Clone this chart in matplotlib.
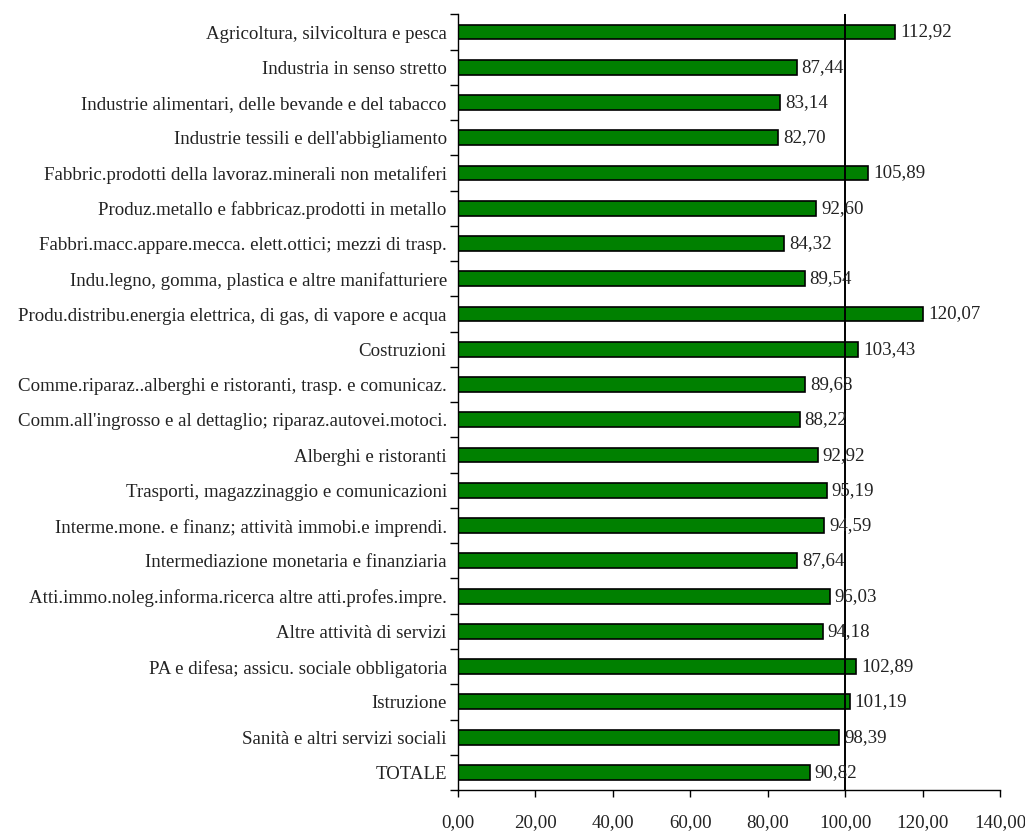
import matplotlib.pyplot as plt
from matplotlib.ticker import FixedLocator, FuncFormatter

# settori (dall'alto verso il basso) e indice
settori = [
    'Agricoltura, silvicoltura e pesca',
    'Industria in senso stretto',
    'Industrie alimentari, delle bevande e del tabacco',
    "Industrie tessili e dell'abbigliamento",
    'Fabbric.prodotti della lavoraz.minerali non metaliferi',
    'Produz.metallo e fabbricaz.prodotti in metallo',
    'Fabbri.macc.appare.mecca. elett.ottici; mezzi di trasp.',
    'Indu.legno, gomma, plastica e altre manifatturiere',
    'Produ.distribu.energia elettrica, di gas, di vapore e acqua',
    'Costruzioni',
    'Comme.riparaz..alberghi e ristoranti, trasp. e comunicaz.',
    "Comm.all'ingrosso e al dettaglio; riparaz.autovei.motoci.",
    'Alberghi e ristoranti',
    'Trasporti, magazzinaggio e comunicazioni',
    'Interme.mone. e finanz; attività immobi.e imprendi.',
    'Intermediazione monetaria e finanziaria',
    'Atti.immo.noleg.informa.ricerca altre atti.profes.impre.',
    'Altre attività di servizi',
    'PA e difesa; assicu. sociale obbligatoria',
    'Istruzione',
    'Sanità e altri servizi sociali',
    'TOTALE',
]
valori = [112.92, 87.44, 83.14, 82.70, 105.89, 92.60, 84.32, 89.54, 120.07,
          103.43, 89.68, 88.22, 92.92, 95.19, 94.59, 87.64, 96.03, 94.18,
          102.89, 101.19, 98.39, 90.82]
xticks = [0, 20, 40, 60, 80, 100, 120, 140]

plt.rcParams['font.family'] = ['Liberation Serif', 'DejaVu Serif']
fs = 13.6

fig = plt.figure(figsize=(10.25, 8.33), dpi=100)
ax = fig.add_axes([0.4468, 0.0516, 0.5288, 0.9311])

n = len(settori)
pos = list(range(n))
ax.barh(pos, valori, height=0.42, color='#008000', edgecolor='black', lw=1.2, zorder=2)

for p, v in zip(pos, valori):
    ax.text(v + 1.3, p, f'{v:.2f}'.replace('.', ','), va='center', ha='left',
            fontsize=fs, color='#222222', zorder=4)

ax.axvline(100, color='black', lw=1.4, zorder=3)

ax.set_xlim(0, 140)
ax.set_ylim(n - 0.5, -0.5)
ax.set_xticks(xticks)
ax.xaxis.set_major_formatter(FuncFormatter(lambda x, _: f'{x:.2f}'.replace('.', ',')))
ax.set_yticks(pos)
ax.set_yticklabels(settori)
ax.yaxis.set_minor_locator(FixedLocator([i - 0.5 for i in range(n + 1)]))

ax.tick_params(axis='y', which='major', length=0, pad=8, labelsize=fs, labelcolor='#222222')
ax.tick_params(axis='y', which='minor', length=6, width=1, direction='out')
ax.tick_params(axis='x', length=5, width=1, direction='out', pad=12, labelsize=fs, labelcolor='#222222')

for s in ['top', 'right']:
    ax.spines[s].set_visible(False)
ax.spines['left'].set_linewidth(1)
ax.spines['bottom'].set_linewidth(1)

fig.savefig('out.png', dpi=100)
